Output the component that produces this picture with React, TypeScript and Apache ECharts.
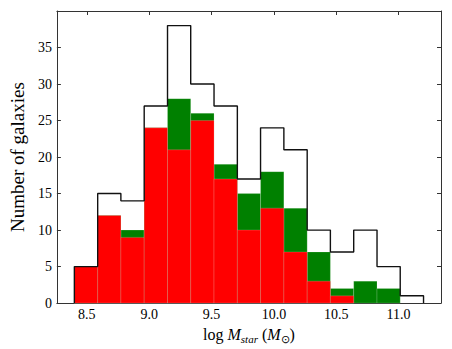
import React, { useEffect, useRef } from "react";
import * as echarts from "echarts";

// Histogram bin edges (log M_star)
const binEdges = [8.4, 8.587, 8.773, 8.96, 9.147, 9.333, 9.52, 9.707, 9.893, 10.08, 10.267, 10.453, 10.64, 10.827, 11.013, 11.2];
// Counts per bin
const totalCounts = [5, 15, 14, 27, 38, 30, 27, 17, 24, 21, 10, 7, 10, 5, 1];
const greenCounts = [5, 12, 10, 24, 28, 26, 19, 15, 18, 13, 7, 2, 3, 2, 0];
const redCounts = [5, 12, 9, 24, 21, 25, 17, 10, 13, 7, 3, 1, 0, 0, 0];
// Tick labels
const xTicks = [8.5, 9.0, 9.5, 10.0, 10.5, 11.0];
const yTicks = [0, 5, 10, 15, 20, 25, 30, 35];

const SERIF = "Liberation Serif";

function barData(counts: number[]) {
  return counts.map((c, i) => [binEdges[i], binEdges[i + 1], c]);
}

function stepData(counts: number[]) {
  const pts: number[][] = [[binEdges[0], 0]];
  counts.forEach((c, i) => {
    pts.push([binEdges[i], c]);
    pts.push([binEdges[i + 1], c]);
  });
  pts.push([binEdges[binEdges.length - 1], 0]);
  return pts;
}

function rectRenderer(fill: string, stroke: string) {
  return (params: any, api: any) => {
    const x0 = api.value(0);
    const x1 = api.value(1);
    const v = api.value(2);
    if (!v) return null;
    const p0 = api.coord([x0, v]);
    const p1 = api.coord([x1, 0]);
    return {
      type: "rect",
      shape: { x: p0[0], y: p0[1], width: p1[0] - p0[0], height: p1[1] - p0[1] },
      style: { fill, stroke, lineWidth: 0.7 },
    };
  };
}

export default function App() {
  const ref = useRef<HTMLDivElement>(null);
  useEffect(() => {
    if (!ref.current) return;
    const chart = echarts.init(ref.current, null, { renderer: "svg" });
    const axisColor = "#333";
    const labelRich = { v: { fontFamily: SERIF, fontSize: 14, color: "#000" } };
    const xBase = {
      type: "value",
      min: 8.26,
      max: 11.34,
      splitLine: { show: false },
      axisLine: { show: true, onZero: false, lineStyle: { color: axisColor, width: 1 } },
      axisTick: { show: true, inside: true, length: 4, customValues: xTicks, lineStyle: { color: axisColor } },
    };
    const yBase = {
      type: "value",
      min: 0,
      max: 40,
      interval: 5,
      splitLine: { show: false },
      axisLine: { show: true, onZero: false, lineStyle: { color: axisColor, width: 1 } },
      axisTick: { show: true, inside: true, length: 4, customValues: yTicks, lineStyle: { color: axisColor } },
    };
    chart.setOption({
      animation: false,
      backgroundColor: "#fff",
      textStyle: { fontFamily: SERIF, color: "#000" },
      grid: { left: 48, right: 11, top: 11, bottom: 45, containLabel: false },
      xAxis: [
        {
          ...xBase,
          position: "bottom",
          name: "{n|log }{i|M}{s|star}{n| (}{i|M}{o|⊙}{n|)}",
          nameLocation: "middle",
          nameGap: 9,
          nameTextStyle: {
            verticalAlign: "top",
            fontFamily: SERIF,
            rich: {
              n: { fontFamily: SERIF, fontSize: 16, color: "#000", lineHeight: 20 },
              i: { fontFamily: SERIF, fontSize: 16, fontStyle: "italic", color: "#000", lineHeight: 20 },
              s: { fontFamily: SERIF, fontSize: 11, fontStyle: "italic", color: "#000", lineHeight: 13, verticalAlign: "bottom" },
              o: { fontFamily: SERIF, fontSize: 11, color: "#000", lineHeight: 13, verticalAlign: "bottom" },
            },
          },
          axisLabel: {
            show: true,
            customValues: xTicks,
            margin: 4,
            fontFamily: SERIF,
            fontSize: 14,
            color: "#000",
            rich: labelRich,
            formatter: (v: number) => "{v|" + v.toFixed(1) + "}",
          },
        },
        {
          ...xBase,
          position: "top",
          axisLabel: { show: false },
        },
      ],
      yAxis: [
        {
          ...yBase,
          position: "left",
          name: "Number of galaxies",
          nameLocation: "middle",
          nameRotate: 90,
          nameGap: 23,
          nameTextStyle: { fontFamily: SERIF, fontSize: 19, color: "#000" },
          axisLabel: {
            show: true,
            margin: 5,
            fontFamily: SERIF,
            fontSize: 14,
            color: "#000",
            rich: labelRich,
            formatter: (v: number) => (v >= 40 ? "" : "{v|" + String(v) + "}"),
          },
        },
        {
          ...yBase,
          position: "right",
          axisLabel: { show: false },
        },
      ],
      series: [
        {
          type: "custom",
          name: "green",
          xAxisIndex: 0,
          yAxisIndex: 0,
          renderItem: rectRenderer("#008000", "rgba(255,255,255,0.25)"),
          encode: { x: [0, 1], y: 2 },
          data: barData(greenCounts),
          z: 2,
        },
        {
          type: "custom",
          name: "red",
          xAxisIndex: 0,
          yAxisIndex: 0,
          renderItem: rectRenderer("#ff0000", "rgba(255,255,255,0.25)"),
          encode: { x: [0, 1], y: 2 },
          data: barData(redCounts),
          z: 3,
        },
        {
          type: "line",
          name: "total",
          xAxisIndex: 0,
          yAxisIndex: 0,
          data: stepData(totalCounts),
          symbol: "none",
          lineStyle: { color: "#111", width: 1.4 },
          z: 4,
        },
      ],
    });
    return () => chart.dispose();
  }, []);
  return (
    <div
      ref={ref}
      style={{ position: "fixed", left: 0, top: 0, width: 452, height: 349, background: "#fff" }}
    />
  );
}
